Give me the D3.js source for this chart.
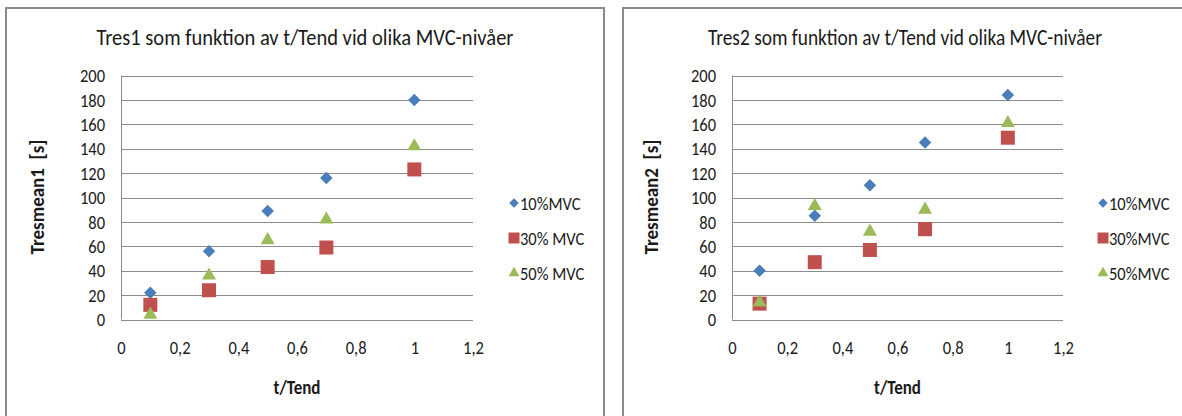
<!DOCTYPE html>
<html>
<head>
<meta charset="utf-8">
<script src="https://cdn.jsdelivr.net/npm/d3@7"></script>
<style>
  body { margin: 0; background: #fff; }
  text { font-family: Carlito, "Open Sans", sans-serif; fill: #1a1a1a; }
  /* the source picture is a bit stretched vertically, so the glyphs are too */
  .tall { transform-box: fill-box; transform-origin: center; transform: scaleY(1.15); }
</style>
</head>
<body>
<div id="chart"></div>
<script>
// data
var tEnd = [0.1, 0.3, 0.5, 0.7, 1];
var xTicks = [0, 0.2, 0.4, 0.6, 0.8, 1, 1.2];
var yTicks = [0, 20, 40, 60, 80, 100, 120, 140, 160, 180, 200];

var tres1_10 = [22, 56, 89, 116, 180];
var tres1_30 = [12, 24, 43, 59, 123];
var tres1_50 = [4, 36, 65, 82, 142];

var tres2_10 = [40, 85, 110, 145, 184];
var tres2_30 = [13, 47, 57, 74, 149];
var tres2_50 = [14, 93, 72, 90, 161];

var legend1 = ["10%MVC", "30% MVC", "50% MVC"];
var legend2 = ["10%MVC", "30%MVC", "50%MVC"];

var colors = ["#4a7ebb", "#c0504d", "#9bbb59"];
var shapes = ["diamond", "square", "triangle"];

var width = 1182, height = 416;

var svg = d3.select("#chart").append("svg")
  .attr("width", width)
  .attr("height", height);

svg.append("rect").attr("width", width).attr("height", height).attr("fill", "#fff");

function marker(shape, s) {
  // s is roughly the visible width of the marker in px
  if (shape == "diamond") return d3.symbol(d3.symbolSquare, (s / Math.SQRT2) * (s / Math.SQRT2))();
  if (shape == "square") return d3.symbol(d3.symbolSquare, s * s)();
  return d3.symbol(d3.symbolTriangle, Math.sqrt(3) / 4 * s * s)();
}

function drawChart(opt) {
  var g = svg.append("g");

  // chart frame
  g.append("rect")
    .attr("x", opt.frame[0]).attr("y", 8)
    .attr("width", opt.frame[1]).attr("height", 440)
    .attr("fill", "none")
    .attr("stroke", "#8a8a8a")
    .attr("stroke-width", 2);

  var x = d3.scaleLinear().domain([0, 1.2]).range([opt.left, opt.right]);
  var y = d3.scaleLinear().domain([0, 200]).range([319.5, 75.5]);

  // horizontal gridlines
  g.append("g").selectAll("line")
    .data(yTicks)
    .enter().append("line")
    .attr("x1", opt.left).attr("x2", opt.right)
    .attr("y1", function(d) { return Math.round(y(d)) + 0.5; })
    .attr("y2", function(d) { return Math.round(y(d)) + 0.5; })
    .attr("stroke", "#8c8c8c");

  g.append("line")
    .attr("x1", opt.left + 0.5).attr("x2", opt.left + 0.5)
    .attr("y1", y(200)).attr("y2", y(0))
    .attr("stroke", "#8c8c8c");

  // y axis labels
  var yAxis = d3.axisLeft(y).tickValues(yTicks).tickSize(0).tickPadding(16);
  var ya = g.append("g").attr("transform", "translate(" + opt.left + ",0)").call(yAxis);
  ya.select(".domain").remove();
  ya.selectAll("text").attr("class", "tall").attr("font-size", 16.5).attr("font-family", null).attr("fill", "#1a1a1a");

  // x axis labels (Swedish decimal comma)
  var xAxis = d3.axisBottom(x).tickValues(xTicks).tickSize(0).tickPadding(22)
    .tickFormat(function(d) { return String(d).replace(".", ","); });
  var xa = g.append("g").attr("transform", "translate(0,319.5)").call(xAxis);
  xa.select(".domain").remove();
  xa.selectAll("text").attr("class", "tall").attr("font-size", 16.5).attr("font-family", null).attr("fill", "#1a1a1a");

  // titles
  g.append("text")
    .attr("class", "tall")
    .attr("x", opt.titleX).attr("y", 44)
    .attr("text-anchor", "middle")
    .attr("font-size", 20)
    .attr("textLength", opt.titleLen)
    .attr("lengthAdjust", "spacingAndGlyphs")
    .text(opt.title);

  g.append("text")
    .attr("class", "tall")
    .attr("x", (opt.left + opt.right) / 2).attr("y", 393)
    .attr("text-anchor", "middle")
    .attr("font-size", 17)
    .attr("font-weight", "bold")
    .text("t/Tend");

  g.append("text")
    .attr("transform", "translate(" + (opt.yLabelX + 6) + ",197) rotate(-90) scale(1,1.15)")
    .attr("text-anchor", "middle")
    .attr("font-size", 17)
    .attr("font-weight", "bold")
    .attr("textLength", 115)
    .attr("lengthAdjust", "spacingAndGlyphs")
    .text(opt.yLabel);

  // points, drawn series by series so later series sit on top
  opt.series.forEach(function(vals, i) {
    g.append("g").selectAll("path")
      .data(vals)
      .enter().append("path")
      .attr("d", marker(shapes[i], i == 0 ? 12.5 : 14))
      .attr("transform", function(d, j) {
        return "translate(" + x(tEnd[j]) + "," + y(d) + ")" + (shapes[i] == "diamond" ? " rotate(45)" : "");
      })
      .attr("fill", colors[i]);
  });

  // legend
  var leg = g.append("g").selectAll("g")
    .data(opt.legend)
    .enter().append("g")
    .attr("transform", function(d, i) { return "translate(" + opt.legendX + "," + (203 + i * 35) + ")"; });

  leg.append("path")
    .attr("d", function(d, i) { return marker(shapes[i], i == 0 ? 9.5 : 11); })
    .attr("transform", function(d, i) { return shapes[i] == "diamond" ? "rotate(45)" : null; })
    .attr("fill", function(d, i) { return colors[i]; });

  leg.append("text")
    .attr("class", "tall")
    .attr("x", 6).attr("y", 6)
    .attr("font-size", 16.5)
    .text(function(d) { return d; });
}

drawChart({
  frame: [6, 598], left: 121, right: 473,
  title: "Tres1 som funktion av t/Tend vid olika MVC-nivåer", titleX: 305, titleLen: 417,
  yLabel: "Tresmean1\u00a0 [s]", yLabelX: 38,
  legendX: 514, legend: legend1,
  series: [tres1_10, tres1_30, tres1_50]
});

drawChart({
  frame: [623, 600], left: 732, right: 1063,
  title: "Tres2 som funktion av t/Tend vid olika MVC-nivåer", titleX: 905, titleLen: 394,
  yLabelX: 652, yLabel: "Tresmean2\u00a0 [s]",
  legendX: 1103, legend: legend2,
  series: [tres2_10, tres2_30, tres2_50]
});
</script>
</body>
</html>
